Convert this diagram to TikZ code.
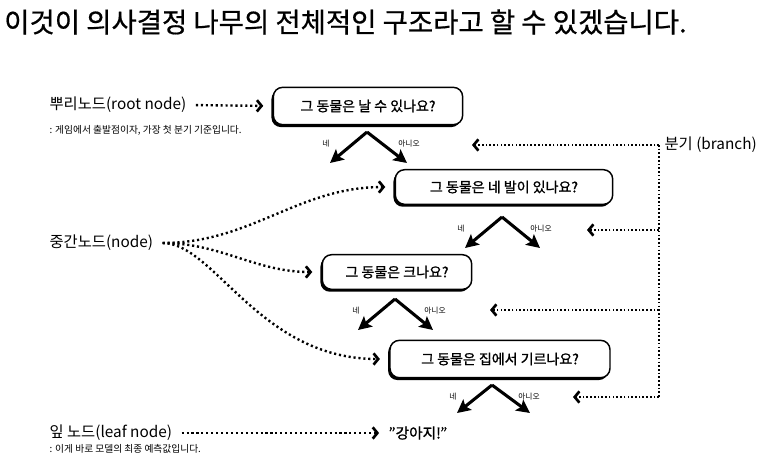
\documentclass[tikz,border=0pt]{standalone}
\usepackage{fontspec}
\setmainfont{Noto Sans CJK KR}
\newfontfamily\handfont{Noto Sans CJK KR}[FakeBold=1.2]
\newfontfamily\headfont{Noto Sans CJK KR}[FakeBold=0.6]
\usepackage{tikz}
\usetikzlibrary{positioning,arrows.meta,shadows}

\begin{document}
\begin{tikzpicture}[x=0.75pt, y=-0.75pt,
            heading/.style={anchor=west, inner sep=0pt, font=\headfont\fontsize{20.6}{23}\selectfont},
            question/.style={draw=black, line width=1.1pt, rounded corners=7pt, fill=white, inner sep=0pt, font=\handfont\fontsize{10.5}{12}\selectfont, general shadow={fill=black, shadow xshift=-1.4pt, shadow yshift=-1.8pt}},
            term/.style={anchor=west, inner sep=1pt, font=\fontsize{11.5}{13}\selectfont},
            note/.style={anchor=west, inner sep=1pt, font=\fontsize{7.3}{8}\selectfont},
            answer/.style={inner sep=0pt, font=\fontsize{5.8}{7}\selectfont},
            split/.style={line width=2.3pt, -{Stealth[length=10pt, width=10pt, inset=2pt]}},
            pointer/.style={line width=1.8pt, dash pattern=on 1.6pt off 2.1pt, -{Straight Barb[length=3.5pt, width=8.5pt, line width=2pt]}, shorten >=7pt, shorten <=6pt},
            branchline/.style={line width=1.3pt, dash pattern=on 1.2pt off 1.6pt},
            branch/.style={branchline, -{Straight Barb[length=3.5pt, width=8.5pt, line width=2pt]}}
        ]
        \useasboundingbox (0,0) rectangle (773,467);

        % Titel
        \node[heading] (ttl) at (4,22) {이것이 의사결정 나무의 전체적인 구조라고 할 수 있겠습니다.};

        % Fragen
        \node[question, minimum width=142pt, minimum height=28pt] (q1) at (368,106) {그 동물은 날 수 있나요?};
        \node[question, minimum width=163pt, minimum height=26pt] (q2) at (504,187) {그 동물은 네 발이 있나요?};
        \node[question, minimum width=112pt, minimum height=26pt] (q3) at (397,272) {그 동물은 크나요?};
        \node[question, minimum width=165pt, minimum height=28pt] (q4) at (500,359) {그 동물은 집에서 기르나요?};
        \node[inner sep=0pt, font=\handfont\fontsize{11}{12}\selectfont] (leaf) at (418,433) {”강아지!”};

        % Begriffe links
        \node[term] (root) at (48,105) {뿌리노드(root node)};
        \node[note] (rootnote) at (48,130) {: 게임에서 출발점이자, 가장 첫 분기 기준입니다.};
        \node[term] (mid) at (48,243) {중간노드(node)};
        \node[term] (leafterm) at (48,433) {잎 노드(leaf node)};
        \node[note] (leafnote) at (48,449) {: 이게 바로 모델의 최종 예측값입니다.};
        \node[term] (br) at (663,145) {분기 (branch)};

        % Verzweigungen
        \coordinate (t1) at (367,132); \coordinate (y1) at (330,163); \coordinate (n1) at (407,163);
        \coordinate (t2) at (502,217); \coordinate (y2) at (465,248); \coordinate (n2) at (540,248);
        \coordinate (t3) at (395,299); \coordinate (y3) at (358,330); \coordinate (n3) at (433,330);
        \coordinate (t4) at (492,385); \coordinate (y4) at (457,413); \coordinate (n4) at (530,413);

        \draw[split] (t1) -- (y1);
        \draw[split] (t1) -- (n1);
        \draw[split] (t2) -- (y2);
        \draw[split] (t2) -- (n2);
        \draw[split] (t3) -- (y3);
        \draw[split] (t3) -- (n3);
        \draw[split] (t4) -- (y4);
        \draw[split] (t4) -- (n4);

        \node[answer] (ly1) at (326,144) {네};
        \node[answer] (ln1) at (409,144) {아니오};
        \node[answer] (ly2) at (461,229) {네};
        \node[answer] (ln2) at (541,229) {아니오};
        \node[answer] (ly3) at (356,311) {네};
        \node[answer] (ln3) at (435,311) {아니오};
        \node[answer] (ly4) at (453,397) {네};
        \node[answer] (ln4) at (529,397) {아니오};

        % Pfeile von den Begriffen
        \draw[pointer] (root.east) -- (q1.west);
        \draw[pointer] (mid.east) to[out=0, in=180] (q2.west);
        \draw[pointer] (mid.east) to[out=0, in=180] (q3.west);
        \draw[pointer] (mid.east) .. controls +(60,0) and +(-130,0) .. (q4.west);
        \draw[pointer] (leafterm.east) -- (leaf.west);

        % Zweige
        \coordinate (bt) at ([xshift=-3pt]br.west);
        \coordinate (b1) at (472,145);
        \coordinate (b2) at (587,230);
        \coordinate (b3) at (490,310);
        \coordinate (b4) at (573,397);
        \draw[branchline] (bt) -- (bt |- b4);
        \draw[branch] (bt) -- (b1);
        \draw[branch] (bt |- b2) -- (b2);
        \draw[branch] (bt |- b3) -- (b3);
        \draw[branch] (bt |- b4) -- (b4);

    \end{tikzpicture}
\end{document}
